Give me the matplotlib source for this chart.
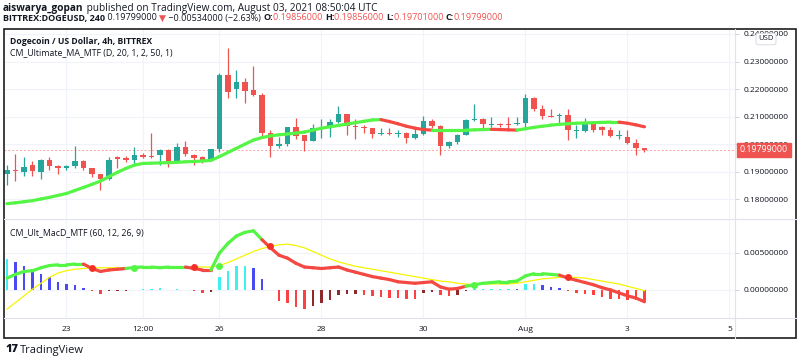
import numpy as np
import matplotlib.pyplot as plt
from matplotlib.collections import LineCollection

plt.rcParams['font.family'] = ['Open Sans', 'DejaVu Sans']

# 4h candles, DOGEUSD on Bittrex (bar 0 = Jul 21 20:00)
opens = [0.1890, 0.1907, 0.1898, 0.1925, 0.1898, 0.1942, 0.1920, 0.1913, 0.1922, 0.1938,
         0.1912, 0.1890, 0.1872, 0.1952, 0.1948, 0.1942, 0.1960, 0.1956, 0.1959, 0.1978,
         0.1938, 0.1990, 0.1962, 0.1953, 0.1942, 0.1981, 0.2251, 0.2199, 0.2227, 0.2195,
         0.2177, 0.2039, 0.1993, 0.1999, 0.2063, 0.2032, 0.2013, 0.2059, 0.2063, 0.2080,
         0.2108, 0.2065, 0.2062, 0.2057, 0.2038, 0.2041, 0.2036, 0.2041, 0.2022, 0.2038,
         0.2084, 0.2065, 0.1995, 0.2008, 0.2035, 0.2087, 0.2092, 0.2070, 0.2075, 0.2075,
         0.2072, 0.2076, 0.2168, 0.2126, 0.2103, 0.2102, 0.2107, 0.2048, 0.2048, 0.2072,
         0.2061, 0.2051, 0.2030, 0.2025, 0.2005, 0.19856]
highs = [0.1926, 0.1965, 0.1954, 0.1938, 0.1947, 0.1954, 0.1925, 0.1926, 0.1995, 0.1942,
         0.1914, 0.1892, 0.1953, 0.1956, 0.1956, 0.1990, 0.1968, 0.2042, 0.1981, 0.1981,
         0.2005, 0.2011, 0.1965, 0.1956, 0.1983, 0.2259, 0.2348, 0.2268, 0.2241, 0.2284,
         0.2184, 0.2051, 0.2027, 0.2063, 0.2096, 0.2035, 0.2072, 0.2092, 0.2092, 0.2138,
         0.2108, 0.2092, 0.2068, 0.2059, 0.2059, 0.2059, 0.2050, 0.2044, 0.2063, 0.2104,
         0.2090, 0.2068, 0.2011, 0.2038, 0.2090, 0.2144, 0.2095, 0.2099, 0.2078, 0.2099,
         0.2099, 0.2181, 0.2172, 0.2142, 0.2126, 0.2112, 0.2126, 0.2068, 0.2095, 0.2078,
         0.2065, 0.2063, 0.2053, 0.2051, 0.2017, 0.19856]
lows = [0.1850, 0.1865, 0.1884, 0.1884, 0.1874, 0.1908, 0.1893, 0.1905, 0.1914, 0.1905,
        0.1880, 0.1833, 0.1869, 0.1914, 0.1935, 0.1926, 0.1948, 0.1948, 0.1926, 0.1918,
        0.1935, 0.1956, 0.1926, 0.1932, 0.1938, 0.1971, 0.2166, 0.2166, 0.2150, 0.2175,
        0.2023, 0.1953, 0.1987, 0.1995, 0.2017, 0.1975, 0.2011, 0.2021, 0.2025, 0.2078,
        0.2032, 0.2019, 0.2041, 0.2023, 0.2035, 0.2033, 0.2027, 0.2005, 0.2017, 0.2035,
        0.2059, 0.1962, 0.1987, 0.2001, 0.2033, 0.2084, 0.2056, 0.2063, 0.2063, 0.2053,
        0.2068, 0.2063, 0.2122, 0.2092, 0.2099, 0.2072, 0.2015, 0.2021, 0.2044, 0.2044,
        0.2033, 0.2027, 0.2017, 0.2002, 0.1960, 0.19701]
closes = [0.1908, 0.1902, 0.1916, 0.1902, 0.1942, 0.1919, 0.1914, 0.1922, 0.1938, 0.1912,
          0.1890, 0.1872, 0.1944, 0.1947, 0.1943, 0.1959, 0.1955, 0.1954, 0.1978, 0.1938,
          0.1990, 0.1965, 0.1949, 0.1944, 0.1981, 0.2251, 0.2190, 0.2227, 0.2193, 0.2177,
          0.2039, 0.1993, 0.1999, 0.2062, 0.2029, 0.2013, 0.2059, 0.2064, 0.2080, 0.2108,
          0.2065, 0.2062, 0.2057, 0.2038, 0.2042, 0.2036, 0.2041, 0.2022, 0.2038, 0.2084,
          0.2065, 0.1995, 0.2008, 0.2035, 0.2086, 0.2093, 0.2072, 0.2075, 0.2070, 0.2070,
          0.2076, 0.2168, 0.2126, 0.2102, 0.2099, 0.2107, 0.2050, 0.2053, 0.2080, 0.2051,
          0.2051, 0.2029, 0.2035, 0.2005, 0.1987, 0.19799]

# CM_Ultimate_MA_MTF daily line
ma = [0.1784, 0.1787, 0.1791, 0.1795, 0.1801, 0.1807, 0.1814, 0.1821, 0.1832, 0.1843,
      0.1854, 0.1866, 0.1882, 0.1898, 0.1912, 0.1924, 0.1930, 0.1931, 0.1932, 0.1933,
      0.1934, 0.1936, 0.1937, 0.1939, 0.1941, 0.1955, 0.1970, 0.1985, 0.2000, 0.2015,
      0.2024, 0.2030, 0.2034, 0.2037, 0.2040, 0.2044, 0.2051, 0.2058, 0.2063, 0.2068,
      0.2073, 0.2078, 0.2083, 0.2088, 0.2089, 0.2082, 0.2074, 0.2065, 0.2058, 0.2053,
      0.2051, 0.2051, 0.2051, 0.2051, 0.2051, 0.2052, 0.2053, 0.2054, 0.2053, 0.2052,
      0.2051, 0.2056, 0.2061, 0.2065, 0.2069, 0.2072, 0.2074, 0.2076, 0.2077, 0.2078,
      0.2079, 0.2080, 0.2080, 0.2076, 0.2070, 0.2063]

# CM_Ult_MacD_MTF (60, 12, 26, 9)
macd = [0.0016, 0.0021, 0.0025, 0.0026, 0.0030, 0.0033, 0.0034, 0.0034, 0.0035, 0.0035,
        0.0029, 0.0025, 0.0027, 0.0028, 0.0029, 0.00305, 0.0031, 0.0031, 0.0030, 0.0031,
        0.0031, 0.0031, 0.0029, 0.0027, 0.0027, 0.0050, 0.0063, 0.0073, 0.0078, 0.0080,
        0.0068, 0.0057, 0.0047, 0.0043, 0.0036, 0.0031, 0.0030, 0.0029, 0.0030, 0.0031,
        0.0027, 0.0024, 0.0021, 0.0018, 0.0016, 0.0014, 0.0011, 0.0010, 0.0009, 0.0010,
        0.0011, 0.0004, 0.0001, 0.0002, 0.0005, 0.0007, 0.0009, 0.0010, 0.0011, 0.0011,
        0.0012, 0.0019, 0.0022, 0.0022, 0.0021, 0.0020, 0.0016, 0.0013, 0.0010, 0.0007,
        0.0003, 0.0000, -0.0004, -0.0008, -0.0011, -0.0016]
signal = [-0.0026, -0.0017, -0.0008, 0.0001, 0.0009, 0.0017, 0.0023, 0.0026, 0.0028, 0.0029,
          0.0030, 0.0030, 0.0030, 0.0030, 0.0030, 0.0030, 0.0030, 0.0030, 0.0030, 0.0030,
          0.0030, 0.0030, 0.0031, 0.0031, 0.0031, 0.0033, 0.0037, 0.0042, 0.0047, 0.0052,
          0.0056, 0.0059, 0.0061, 0.0062, 0.0060, 0.0057, 0.0052, 0.0047, 0.0042, 0.0038,
          0.0035, 0.0032, 0.0030, 0.0028, 0.0026, 0.0024, 0.0022, 0.0020, 0.0018, 0.0016,
          0.0014, 0.0012, 0.0011, 0.0009, 0.0008, 0.0007, 0.0008, 0.0008, 0.0008, 0.0008,
          0.0009, 0.0011, 0.0013, 0.0015, 0.0016, 0.0017, 0.0017, 0.0017, 0.0016, 0.0014,
          0.0012, 0.0010, 0.0008, 0.0005, 0.0002, -0.0001]
hist = [0.0042, 0.0038, 0.0033, 0.0028, 0.0022, 0.0017, 0.0011, 0.0008, 0.0006, 0.0003,
        -0.00014, -0.00054, -0.0001, -0.0001, -0.0001, -0.00005, 0.00013, 0.00018, 0.00022, 0.00005,
        0.00013, 0.0, -0.00014, -0.00036, -0.00023, 0.0017, 0.0025, 0.0033, 0.0033, 0.0029,
        0.0015, 0.0, -0.0015, -0.0018, -0.0023, -0.0026, -0.0022, -0.0018, -0.00135, -0.0007,
        -0.00054, -0.00054, -0.0007, -0.0008, -0.0010, -0.0011, -0.00115, -0.0012, -0.00122, -0.00045,
        -0.00027, -0.0007, -0.0008, -0.0007, -0.00014, 0.0001, 0.00012, 0.00014, 0.00016, 0.00018,
        0.00015, 0.0008, 0.0008, 0.0006, 0.00045, 0.0003, -0.00014, -0.00036, -0.00054, -0.0007,
        -0.0009, -0.0012, -0.00126, -0.00135, -0.00137, -0.0016]

tick_bars = [7, 16, 25, 37, 49, 61, 73, 85]
tick_labels = ['23', '12:00', '26', '28', '30', 'Aug', '3', '5']
price_ticks = [0.18, 0.19, 0.20, 0.21, 0.22, 0.23, 0.24]
macd_ticks = [0.0, 0.005]
last_price = 0.19799

W, H = 800, 362
fx = lambda px: px / W
fy = lambda py: 1 - py / H

UP, DOWN = '#26a69a', '#ef5350'
TXT = '#131722'
GRID = '#f0f3fa'

fig = plt.figure(figsize=(8, 3.62), dpi=100)
fig.patch.set_facecolor('white')

ax1 = fig.add_axes([fx(4), fy(218), fx(735) - fx(4), fy(29) - fy(218)])
ax2 = fig.add_axes([fx(4), fy(318), fx(735) - fx(4), fy(219) - fy(318)])

x = np.arange(len(closes))
o, h, l, c = map(np.array, (opens, highs, lows, closes))
col = np.where(c >= o, UP, DOWN)

# candles
ax1.vlines(x, l, h, colors=col, lw=0.9, zorder=3)
ax1.bar(x, np.maximum(np.abs(c - o), 0.0003), bottom=np.minimum(o, c), width=0.66,
        color=col, zorder=4)

# MA line, red while falling
ma = np.array(ma)
segs = [[(x[i], ma[i]), (x[i + 1], ma[i + 1])] for i in range(len(ma) - 1)]
ma_cols = ['#f44842' if ma[i + 1] < ma[i] else '#55f545' for i in range(len(ma) - 1)]
ax1.add_collection(LineCollection(segs, colors=ma_cols, lw=2.3, capstyle='round', zorder=5))

ax1.axhline(last_price, color='#f7a5a3', lw=0.7, ls=(0, (2, 2)), zorder=2)

ax1.set_xlim(-0.35, 85.65)
ax1.set_ylim(0.1732, 0.2418)
ax1.set_yticks(price_ticks)
ax1.set_yticklabels(['%.8f' % v for v in price_ticks])
ax1.set_xticks(tick_bars)
ax1.set_xticklabels([])

# MACD panel
hv = np.array(hist)
prev = np.concatenate([[hv[0]], hv[:-1]])
hcol = []
for v, p in zip(hv, prev):
    if v >= 0:
        hcol.append('#3ff0f0' if v >= p else '#4a4af2')
    else:
        hcol.append('#8e2a2a' if v >= p else '#ff4040')
ax2.bar(x, hv, width=0.33, color=hcol, zorder=2)

m, s = np.array(macd), np.array(signal)
ax2.plot(x, s, color='#f5f500', lw=0.9, zorder=3)
segs = [[(x[i], m[i]), (x[i + 1], m[i + 1])] for i in range(len(m) - 1)]
m_cols = ['#55f545' if m[i + 1] >= s[i + 1] else '#f44842' for i in range(len(m) - 1)]
ax2.add_collection(LineCollection(segs, colors=m_cols, lw=2.3, capstyle='round', zorder=4))
above = m >= s
for i in range(1, len(m)):
    if above[i] != above[i - 1]:
        ax2.plot(x[i], s[i], 'o', ms=5, mew=0, color='#55f545' if above[i] else '#f4302a', zorder=5)

ax2.set_xlim(-0.35, 85.65)
ax2.set_ylim(-0.0038, 0.0096)
ax2.set_yticks(macd_ticks)
ax2.set_yticklabels(['%.8f' % v for v in macd_ticks])
ax2.set_xticks(tick_bars)
ax2.set_xticklabels(tick_labels)

for ax in (ax1, ax2):
    ax.set_facecolor('white')
    ax.grid(color=GRID, lw=0.8, zorder=0)
    ax.set_axisbelow(True)
    for sp in ax.spines.values():
        sp.set_visible(False)
    ax.yaxis.tick_right()
    ax.tick_params(axis='y', length=3, width=0.6, color='#c8cbd2', labelsize=6, labelcolor=TXT, pad=3)
    ax.tick_params(axis='x', length=0, labelsize=6, labelcolor=TXT, pad=6)

# frame and separators
fig.add_artist(plt.Rectangle((fx(4), fy(338)), fx(796) - fx(4), fy(29) - fy(338),
                             transform=fig.transFigure, fill=False, ec='#1e1e1e', lw=1.2))
fig.add_artist(plt.Line2D([fx(735), fx(735)], [fy(338), fy(29)], transform=fig.transFigure,
                          color='#e0e3eb', lw=0.8))
fig.add_artist(plt.Line2D([fx(4), fx(796)], [fy(218.5), fy(218.5)], transform=fig.transFigure,
                          color='#e0e3eb', lw=0.8))
fig.add_artist(plt.Line2D([fx(4), fx(796)], [fy(318), fy(318)], transform=fig.transFigure,
                          color='#e0e3eb', lw=0.8))

# last price tag and currency badge (they sit over axis labels, as in TradingView)
ax1.annotate('%.8f' % last_price, xy=(1.0, last_price), xycoords=('axes fraction', 'data'),
             xytext=(3.5, 0), textcoords='offset points', ha='left', va='center',
             fontsize=6.3, color='white',
             bbox=dict(boxstyle='square,pad=0.3', fc='#ef5350', ec='#ef5350'), zorder=10,
             annotation_clip=False)
fig.text(fx(766), fy(39), 'USD', ha='center', va='center', fontsize=5.5, color=TXT,
         bbox=dict(boxstyle='round,pad=0.3', fc='white', ec='#d1d4dc', lw=0.6))

# titles
fig.text(fx(10), fy(41), 'Dogecoin / US Dollar, 4h, BITTREX', fontsize=6.2, fontweight='bold',
         color=TXT, va='center')
fig.text(fx(10), fy(53), 'CM_Ultimate_MA_MTF (D, 20, 1, 2, 50, 1)', fontsize=6.3, color=TXT, va='center')
fig.text(fx(10), fy(233), 'CM_Ult_MacD_MTF (60, 12, 26, 9)', fontsize=6.3, color=TXT, va='center')


def rich(pieces, px, py, size):
    r = fig.canvas.get_renderer()
    for txt, color, weight in pieces:
        t = fig.text(fx(px), fy(py), txt, fontsize=size, color=color, fontweight=weight, va='center')
        px = t.get_window_extent(r).x1 * W / fig.bbox.width


RED = '#ef5350'
rich([('aiswarya_gopan', TXT, 'bold'),
      (' published on TradingView.com, August 03, 2021 08:50:04 UTC', TXT, 'normal')], 3, 8, 7.3)
rich([('BITTREX:DOGEUSD, 240', TXT, 'bold'), (' 0.19799000 ', TXT, 'normal'),
      ('▼', RED, 'normal'), (' \u22120.00534000 (\u22122.63%) ', TXT, 'normal'),
      ('O:', TXT, 'bold'), ('0.19856000 ', RED, 'normal'),
      ('H:', TXT, 'bold'), ('0.19856000 ', RED, 'normal'),
      ('L:', TXT, 'bold'), ('0.19701000 ', RED, 'normal'),
      ('C:', TXT, 'bold'), ('0.19799000', RED, 'normal')], 3, 18, 6.5)

# logo
fig.text(fx(5), fy(350), '17', fontsize=8, fontweight='heavy', color=TXT, va='center')
fig.text(fx(20), fy(350), 'TradingView', fontsize=8, color=TXT, va='center')

fig.savefig('out.png', dpi=100, facecolor='white')
